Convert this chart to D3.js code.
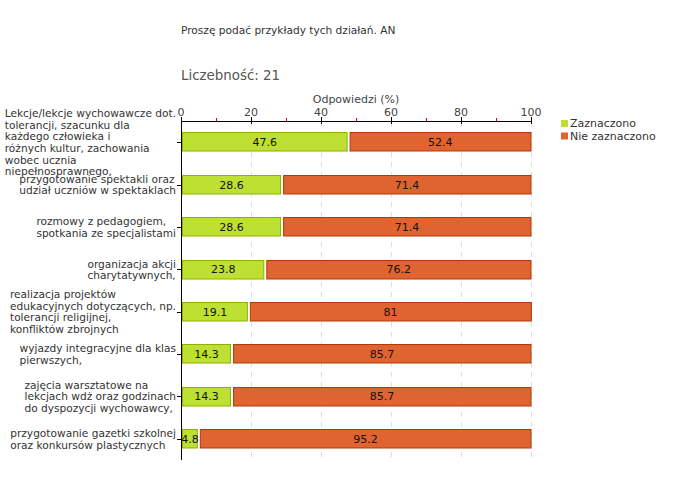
<!DOCTYPE html>
<html><head><meta charset="utf-8">
<script src="https://cdn.jsdelivr.net/npm/d3@7"></script>
<style>body{margin:0;background:#fff}svg{display:block}text{font-family:"DejaVu Sans",Verdana,sans-serif}</style>
</head><body><svg id="c" width="680" height="480"></svg>
<script>
const title = "Proszę podać przykłady tych działań. AN";
const countLabel = "Liczebność: 21";
const axisTitle = "Odpowiedzi (%)";
const categories = [
  ["Lekcje/lekcje wychowawcze dot.","tolerancji, szacunku dla","każdego człowieka i","różnych kultur, zachowania","wobec ucznia","niepełnosprawnego,"],
  ["przygotowanie spektakli oraz","udział uczniów w spektaklach"],
  ["rozmowy z pedagogiem,","spotkania ze specjalistami"],
  ["organizacja akcji","charytatywnych,"],
  ["realizacja projektów","edukacyjnych dotyczących, np.","tolerancji religijnej,","konfliktów zbrojnych"],
  ["wyjazdy integracyjne dla klas","pierwszych,"],
  ["zajęcia warsztatowe na","lekcjach wdż oraz godzinach","do dyspozycji wychowawcy,"],
  ["przygotowanie gazetki szkolnej","oraz konkursów plastycznych"]
];
const seriesNames = ["Zaznaczono","Nie zaznaczono"];
const zaznaczono = [47.6, 28.6, 28.6, 23.8, 19.1, 14.3, 14.3, 4.8];
const nieZaznaczono = [52.4, 71.4, 71.4, 76.2, 81, 85.7, 85.7, 95.2];
const majorTicks = [0,20,40,60,80,100];
const minorTicks = [10,30,50,70,90];
const colors = {green:"#bee032", greenStroke:"#8fb000", orange:"#e06430", orangeStroke:"#b03a08"};

const svg = d3.select("#c");
const x = d3.scaleLinear().domain([0,100]).range([181,531]);
const y = d3.scaleBand().domain(d3.range(categories.length)).range([121,460]);
const barH = 19.5;

svg.append("text").attr("x",181).attr("y",34).attr("font-size",10.6).attr("fill","#333").text(title);
svg.append("text").attr("x",181).attr("y",80).attr("font-size",13.4).attr("fill","#555").text(countLabel);
svg.append("text").attr("x",x(50)).attr("y",103).attr("text-anchor","middle").attr("font-size",11).attr("fill","#444").text(axisTitle);

// grid
svg.append("g").selectAll("line").data(majorTicks.slice(1)).join("line")
  .attr("x1",d=>Math.round(x(d))+0.5).attr("x2",d=>Math.round(x(d))+0.5)
  .attr("y1",122).attr("y2",460).attr("stroke","#ddd").attr("stroke-dasharray","5,5");

// bars
const rows = svg.append("g").selectAll("g").data(categories.map((c,i)=>({c,i,a:zaznaczono[i],b:nieZaznaczono[i]}))).join("g");
rows.append("rect")
  .attr("x",x(0)+1.5).attr("y",d=>Math.round(y(d.i)+y.bandwidth()/2-barH/2)+0.5)
  .attr("width",d=>x(d.a)-x(0)-2).attr("height",barH-1)
  .attr("fill",colors.green).attr("stroke",colors.greenStroke);
rows.append("rect")
  .attr("x",d=>x(d.a)+2.5).attr("y",d=>Math.round(y(d.i)+y.bandwidth()/2-barH/2)+0.5)
  .attr("width",d=>x(d.b+d.a)-x(d.a)-2.5).attr("height",barH-1)
  .attr("fill",colors.orange).attr("stroke",colors.orangeStroke);
rows.append("text").attr("x",d=>(x(0)+x(d.a))/2+0.5).attr("y",d=>y(d.i)+y.bandwidth()/2+4)
  .attr("text-anchor","middle").attr("font-size",11).attr("fill","#111").text(d=>d.a);
rows.append("text").attr("x",d=>(x(d.a)+x(100))/2+1).attr("y",d=>y(d.i)+y.bandwidth()/2+4)
  .attr("text-anchor","middle").attr("font-size",11).attr("fill","#111").text(d=>d.b);

// category labels
const lh = 11.6;
rows.each(function(d){
  const g = d3.select(this).append("g");
  const n = d.c.length;
  const cy = y(d.i)+y.bandwidth()/2;
  const ts = g.selectAll("text").data(d.c).join("text")
    .attr("y",(t,k)=>cy + (k-(n-1)/2)*lh + 4)
    .attr("font-size",10.6).attr("fill","#333").text(t=>t);
  let w = 0; ts.each(function(){w=Math.max(w,this.getComputedTextLength());});
  ts.attr("x",176-w);
});

// axes
svg.append("line").attr("x1",181).attr("x2",531).attr("y1",121.5).attr("y2",121.5).attr("stroke","#000");
svg.append("line").attr("x1",181.5).attr("x2",181.5).attr("y1",121).attr("y2",460).attr("stroke","#000");
svg.append("g").selectAll("line").data(majorTicks).join("line")
  .attr("x1",d=>Math.round(x(d))+0.5).attr("x2",d=>Math.round(x(d))+0.5).attr("y1",117).attr("y2",124).attr("stroke","#000");
svg.append("g").selectAll("line").data(minorTicks).join("line")
  .attr("x1",d=>Math.round(x(d))+0.5).attr("x2",d=>Math.round(x(d))+0.5).attr("y1",118).attr("y2",121).attr("stroke","#d00");
svg.append("g").selectAll("text").data(majorTicks).join("text")
  .attr("x",d=>x(d)).attr("y",116).attr("text-anchor","middle").attr("font-size",11).attr("fill","#444").text(d=>d);
svg.append("g").selectAll("line").data(d3.range(categories.length)).join("line")
  .attr("x1",177).attr("x2",181).attr("y1",i=>Math.round(y(i)+y.bandwidth()/2)+0.5).attr("y2",i=>Math.round(y(i)+y.bandwidth()/2)+0.5).attr("stroke","#000");

// legend
const lg = svg.append("g").selectAll("g").data(seriesNames).join("g");
lg.append("rect").attr("x",561).attr("y",(d,i)=>120+i*12.5).attr("width",7).attr("height",7)
  .attr("fill",(d,i)=>i?colors.orange:colors.green);
lg.append("text").attr("x",570).attr("y",(d,i)=>127+i*12.5).attr("font-size",11).attr("fill","#333").text(d=>d);
</script></body></html>
